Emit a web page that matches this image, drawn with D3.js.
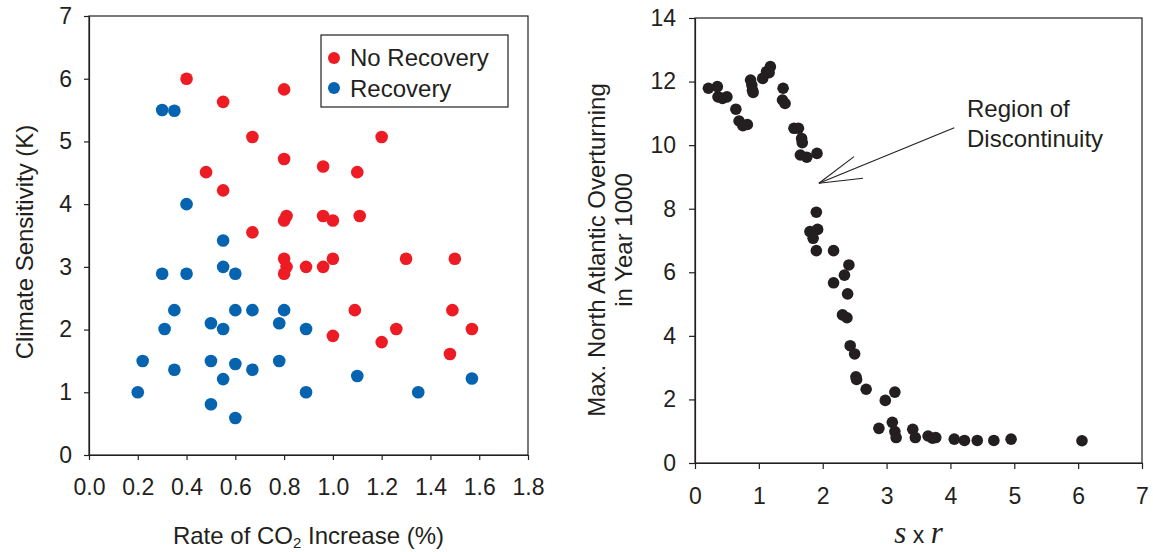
<!doctype html>
<html lang="en">
<head>
  <meta charset="utf-8">
  <title>Climate sensitivity and overturning</title>
  <script src="https://d3js.org/d3.v7.min.js"></script>
  <style type="text/css">
    body { margin: 0; background: #fff; }
    svg { font-family: 'Liberation Sans', Arial, sans-serif; }
    .axis path, .axis line { stroke: #231f20; stroke-width: 1.2; }
    .axis text { font-size: 23px; fill: #231f20; }
    .frame { fill: none; stroke: #231f20; stroke-width: 1.2; }
    .title { font-size: 24px; fill: #231f20; }
  </style>
</head>
<body>
  <div id="chart"></div>
  <script type="text/javascript">

    // left panel: rate of CO2 increase (%) vs climate sensitivity (K)
    var noRecoveryRate = [0.40, 0.55, 0.80, 0.67, 1.20, 0.80, 0.96, 1.10, 0.48, 0.55, 0.81, 0.80, 0.96, 1.00, 1.11, 0.67,
                          0.80, 0.81, 0.80, 0.89, 0.96, 1.00, 1.30, 1.50, 1.09, 1.49, 1.26, 1.57, 1.00, 1.20, 1.48];
    var noRecoverySens = [6.00, 5.63, 5.83, 5.07, 5.07, 4.72, 4.60, 4.51, 4.51, 4.22, 3.81, 3.74, 3.81, 3.74, 3.81, 3.55,
                          3.13, 3.00, 2.89, 3.00, 3.00, 3.13, 3.13, 3.13, 2.31, 2.31, 2.01, 2.01, 1.90, 1.80, 1.61];
    var recoveryRate = [0.30, 0.35, 0.40, 0.55, 0.55, 0.60, 0.30, 0.40, 0.35, 0.60, 0.67, 0.80, 0.31, 0.50, 0.55, 0.78,
                        0.89, 0.22, 0.35, 0.50, 0.60, 0.67, 0.78, 0.55, 1.10, 1.57, 0.20, 0.89, 1.35, 0.50, 0.60];
    var recoverySens = [5.50, 5.49, 4.00, 3.42, 3.00, 2.89, 2.89, 2.89, 2.31, 2.31, 2.31, 2.31, 2.01, 2.10, 2.01, 2.10,
                        2.01, 1.50, 1.36, 1.50, 1.45, 1.36, 1.50, 1.21, 1.26, 1.22, 1.00, 1.00, 1.00, 0.81, 0.59];
    var legendLabels = ['No Recovery', 'Recovery'];
    var rateTicks = [0, 0.2, 0.4, 0.6, 0.8, 1.0, 1.2, 1.4, 1.6, 1.8];
    var sensTicks = [0, 1, 2, 3, 4, 5, 6, 7];

    // right panel: s x r vs max. North Atlantic overturning in year 1000
    var sr = [0.21, 0.35, 0.36, 0.43, 0.50, 0.64, 0.69, 0.75, 0.82, 0.87, 0.89, 0.90, 0.91, 1.06, 1.12, 1.18, 1.16,
              1.38, 1.37, 1.41, 1.55, 1.62, 1.67, 1.68, 1.65, 1.75, 1.91, 1.90, 1.80, 1.92, 1.85, 1.90, 2.17, 2.41,
              2.34, 2.17, 2.39, 2.31, 2.38, 2.43, 2.50, 2.52, 2.53, 2.68, 2.98, 3.13, 2.88, 3.09, 3.13, 3.15, 3.41,
              3.45, 3.65, 3.72, 3.77, 4.06, 4.22, 4.42, 4.68, 4.95, 6.06];
    var overturning = [11.79, 11.84, 11.52, 11.47, 11.52, 11.13, 10.76, 10.61, 10.65, 12.05, 11.89, 11.73, 11.66, 12.10,
                       12.31, 12.47, 12.28, 11.79, 11.42, 11.31, 10.53, 10.53, 10.21, 10.08, 9.69, 9.62, 9.74, 7.89,
                       7.28, 7.35, 7.07, 6.68, 6.68, 6.23, 5.91, 5.67, 5.32, 4.66, 4.57, 3.69, 3.43, 2.71, 2.63, 2.32,
                       1.97, 2.23, 1.09, 1.28, 0.99, 0.80, 1.06, 0.80, 0.85, 0.78, 0.80, 0.75, 0.71, 0.71, 0.71, 0.75,
                       0.70];
    var srTicks = [0, 1, 2, 3, 4, 5, 6, 7];
    var overTicks = [0, 2, 4, 6, 8, 10, 12, 14];

    // annotation arrow, in data units of the right panel: tip, tail, two head ends
    var arrowX = [1.94, 4.06, 2.49, 2.63];
    var arrowY = [8.80, 10.55, 9.64, 8.96];
    var noteLines = ['Region of', 'Discontinuity'];
    var noteX = 4.26, noteY = [10.89, 9.95];

    var width = 1153, height = 552;
    var red = '#ed1c24', blue = '#0563b0', dark = '#231f20';

    var svg = d3.select('#chart').append('svg')
        .attr('width', width)
        .attr('height', height);

    // ---------- left panel ----------
    var x1 = d3.scaleLinear().domain([0, 1.8]).range([89, 528]);
    var y1 = d3.scaleLinear().domain([0, 7]).range([455, 16]);

    svg.append('rect').attr('class', 'frame')
        .attr('x', x1(0)).attr('y', y1(7))
        .attr('width', x1(1.8) - x1(0)).attr('height', y1(0) - y1(7));

    svg.append('g').attr('class', 'axis')
        .attr('transform', 'translate(0,' + y1(0) + ')')
        .call(d3.axisBottom(x1).tickValues(rateTicks).tickFormat(d3.format('.1f'))
          .tickSize(5).tickSizeOuter(0).tickPadding(19));

    svg.append('g').attr('class', 'axis')
        .attr('transform', 'translate(' + x1(0) + ',0)')
        .call(d3.axisLeft(y1).tickValues(sensTicks).tickFormat(d3.format('d'))
          .tickSize(5).tickSizeOuter(0).tickPadding(12));

    var blueData = recoveryRate.map(function(d, i) { return [d, recoverySens[i]]; });
    var redData = noRecoveryRate.map(function(d, i) { return [d, noRecoverySens[i]]; });

    svg.append('g').selectAll('circle').data(blueData).enter().append('circle')
        .attr('cx', function(d) { return x1(d[0]); })
        .attr('cy', function(d) { return y1(d[1]); })
        .attr('r', 6.3)
        .attr('fill', blue);

    svg.append('g').selectAll('circle').data(redData).enter().append('circle')
        .attr('cx', function(d) { return x1(d[0]); })
        .attr('cy', function(d) { return y1(d[1]); })
        .attr('r', 6.3)
        .attr('fill', red);

    // legend
    var legend = svg.append('g').attr('transform', 'translate(321,35)');
    legend.append('rect').attr('class', 'frame')
        .attr('width', 187).attr('height', 72).attr('stroke-width', 1);
    legend.selectAll('circle').data(legendLabels).enter().append('circle')
        .attr('cx', 13)
        .attr('cy', function(d, i) { return 23 + i * 30; })
        .attr('r', 6)
        .attr('fill', function(d, i) { return i === 0 ? red : blue; });
    legend.selectAll('text').data(legendLabels).enter().append('text')
        .attr('class', 'title')
        .attr('x', 29)
        .attr('y', function(d, i) { return 31 + i * 31; })
        .text(function(d) { return d; });

    // titles
    svg.append('text').attr('class', 'title')
        .attr('transform', 'translate(33,242) rotate(-90)')
        .attr('text-anchor', 'middle')
        .text('Climate Sensitivity (K)');

    var xt = svg.append('text').attr('class', 'title')
        .attr('x', (x1(0) + x1(1.8)) / 2).attr('y', 544)
        .attr('text-anchor', 'middle');
    xt.append('tspan').text('Rate of CO');
    xt.append('tspan').attr('dy', 4).style('font-size', '15px').text('2');
    xt.append('tspan').attr('dy', -4).text(' Increase (%)');

    // ---------- right panel ----------
    var x2 = d3.scaleLinear().domain([0, 7]).range([695, 1142]);
    var y2 = d3.scaleLinear().domain([0, 14]).range([463, 18]);

    svg.append('rect').attr('class', 'frame')
        .attr('x', x2(0)).attr('y', y2(14))
        .attr('width', x2(7) - x2(0)).attr('height', y2(0) - y2(14));

    svg.append('g').attr('class', 'axis')
        .attr('transform', 'translate(0,' + y2(0) + ')')
        .call(d3.axisBottom(x2).tickValues(srTicks).tickFormat(d3.format('d'))
          .tickSize(6).tickSizeOuter(0).tickPadding(19));

    svg.append('g').attr('class', 'axis')
        .attr('transform', 'translate(' + x2(0) + ',0)')
        .call(d3.axisLeft(y2).tickValues(overTicks).tickFormat(d3.format('d'))
          .tickSize(6).tickSizeOuter(0).tickPadding(13));

    svg.append('g').selectAll('circle').data(sr).enter().append('circle')
        .attr('cx', function(d) { return x2(d); })
        .attr('cy', function(d, i) { return y2(overturning[i]); })
        .attr('r', 5.8)
        .attr('fill', dark);

    // arrow from the note toward the gap
    var tip = [x2(arrowX[0]), y2(arrowY[0])];
    svg.append('g').selectAll('line').data([1, 2, 3]).enter().append('line')
        .attr('x1', tip[0]).attr('y1', tip[1])
        .attr('x2', function(d) { return x2(arrowX[d]); })
        .attr('y2', function(d) { return y2(arrowY[d]); })
        .attr('stroke', dark)
        .attr('stroke-width', 1.1);

    svg.append('g').selectAll('text').data(noteLines).enter().append('text')
        .attr('class', 'title')
        .attr('x', x2(noteX))
        .attr('y', function(d, i) { return y2(noteY[i]); })
        .text(function(d) { return d; });

    svg.append('text').attr('class', 'title')
        .attr('transform', 'translate(605,250) rotate(-90)')
        .attr('text-anchor', 'middle')
        .text('Max. North Atlantic Overturning');
    svg.append('text').attr('class', 'title')
        .attr('transform', 'translate(632,240) rotate(-90)')
        .attr('text-anchor', 'middle')
        .text('in Year 1000');

    var st = svg.append('text')
        .attr('x', (x2(0) + x2(7)) / 2).attr('y', 543)
        .attr('text-anchor', 'middle')
        .style('fill', dark);
    st.append('tspan').style('font-family', "'Liberation Serif', serif").style('font-style', 'italic')
        .style('font-size', '31px').text('s');
    st.append('tspan').style('font-size', '23px').text(' x ');
    st.append('tspan').style('font-family', "'Liberation Serif', serif").style('font-style', 'italic')
        .style('font-size', '31px').text('r');

  </script>
</body>
</html>
